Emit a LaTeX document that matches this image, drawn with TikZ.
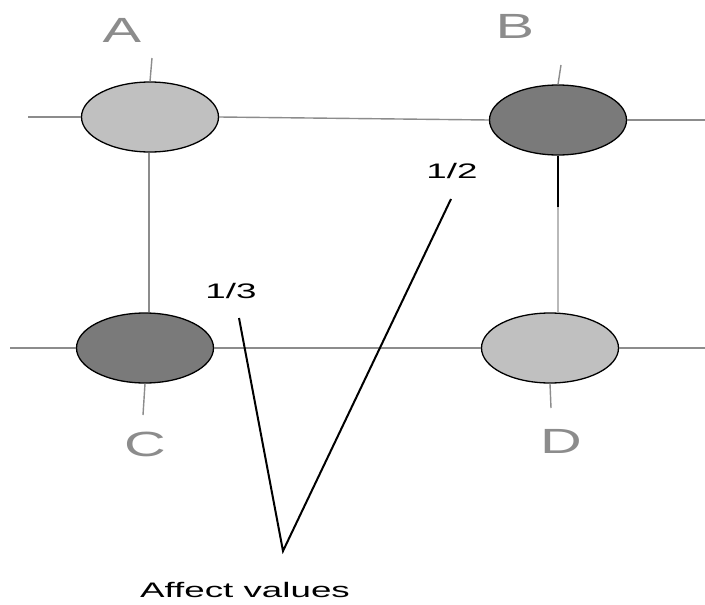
\documentclass[tikz,border=0pt]{standalone}
\usepackage{fontspec}
\setmainfont{Liberation Sans}
\usetikzlibrary{shapes.geometric}
\definecolor{lightnode}{RGB}{192,192,192}
\definecolor{darknode}{RGB}{122,122,122}
\definecolor{gridgray}{RGB}{140,140,140}
\definecolor{palegray}{RGB}{185,185,185}
\tikzset{
  site/.style={ellipse, draw=black, line width=1.3pt, minimum width=137pt, minimum height=70pt, inner sep=0pt},
  wire/.style={gridgray, line width=1.4pt},
  letter/.style={anchor=base, text=gridgray, font=\fontsize{35}{35}\selectfont, xscale=1.65, inner sep=0pt},
  note/.style={anchor=base, font=\fontsize{21}{21}\selectfont, xscale=1.75, inner sep=0pt},
  pointer/.style={black, line width=2pt},
}

\begin{document}
\begin{tikzpicture}[x=1pt, y=-1pt]
  \useasboundingbox[fill=white] (0,0) rectangle (705,605);
  % sites
  \node[site, fill=lightnode] (A) at (150,117) {};
  \node[site, fill=darknode] (B) at (558,120) {};
  \node[site, fill=darknode] (C) at (145,348) {};
  \node[site, fill=lightnode] (D) at (550,348) {};
  % free ends
  \coordinate (topl) at (28,117);
  \coordinate (topr) at (705,120);
  \coordinate (botl) at (10,348);
  \coordinate (botr) at (705,348);
  \coordinate (Aup) at (152,58);
  \coordinate (Cdn) at (143,415);
  \coordinate (Bup) at (561,65);
  \coordinate (Bdn) at (558,207);
  \coordinate (Ddn) at (551,408);
  % grid
  \draw[wire] (topl) -- (A.west);
  \draw[wire] (A.east) -- (B.west);
  \draw[wire] (B.east) -- (topr);
  \draw[wire] (botl) -- (C.west);
  \draw[wire] (C.east) -- (D.west);
  \draw[wire] (D.east) -- (botr);
  \draw[wire] (Aup) -- (A.north);
  \draw[wire] ([xshift=-1pt]A.south) -- ([xshift=-1pt]A.south |- C.north);
  \draw[wire] (C.south) -- (Cdn);
  \draw[wire] (Bup) -- (B.north);
  \draw[black, line width=2pt] (B.south) -- (Bdn);
  \draw[wire, palegray] (Bdn) -- (Bdn |- D.north);
  \draw[wire] (D.south) -- (Ddn);
  % labels
  \node[letter] (labA) at (122,42) {A};
  \node[letter] (labB) at (515,38) {B};
  \node[letter] (labC) at (145,456) {C};
  \node[letter] (labD) at (561,453) {D};
  % affect values
  \node[note] (half) at (452,178) {1/2};
  \node[note] (third) at (231,298) {1/3};
  \node[note] (affect) at (245,597) {Affect values};
  \coordinate (tipl) at (239,318);
  \coordinate (tipr) at (451,199);
  \coordinate (vtip) at (283,551);
  \draw[pointer] (tipl) -- (vtip) -- (tipr);
\end{tikzpicture}
\end{document}
